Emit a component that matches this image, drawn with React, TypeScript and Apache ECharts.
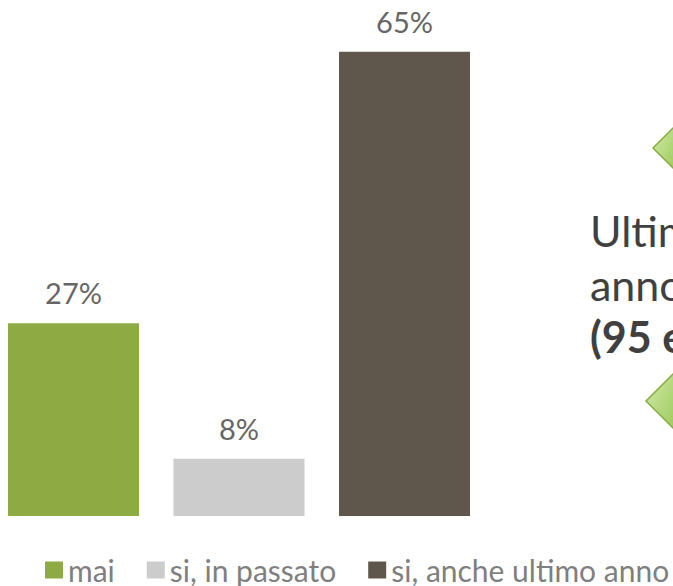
import React, { useEffect, useRef } from "react";
import * as echarts from "echarts";

const categories = ["mai", "si, in passato", "si, anche ultimo anno"];
const values = [27, 8, 65];
const colors = ["#8DAA43", "#CCCCCC", "#5F574C"];
const calloutLines = ["Ultimo", "anno", "(95 e più)"];

const FONT = "Lato, 'Noto Sans', sans-serif";
// the chart div is shifted 10px to the left so that the first bar can start near the page edge
const SHIFT = 10;

export default function App() {
  const ref = useRef<HTMLDivElement>(null);
  useEffect(() => {
    if (!ref.current) return;
    const chart = echarts.init(ref.current, undefined, { renderer: "svg" });
    const series = categories.map((name, i) => ({
      name,
      type: "bar",
      stack: "all",
      barWidth: 131,
      itemStyle: { color: colors[i] },
      data: values.map((v, j) => (j === i ? v : "-")),
      label: {
        show: true,
        position: "top",
        distance: 16,
        formatter: "{c}%",
        color: "#666666",
        fontSize: 29,
        fontFamily: FONT,
      },
    }));
    const greenFill = new echarts.graphic.LinearGradient(0, 0, 1, 1, [
      { offset: 0, color: "#D2EBAA" },
      { offset: 1, color: "#9CC95A" },
    ]);
    const tx = (x: number) => x + SHIFT;
    chart.setOption({
      animation: false,
      grid: { left: 0.75, right: 185.75, top: 16, bottom: 70, containLabel: false },
      xAxis: {
        type: "category",
        data: categories,
        show: false,
      },
      yAxis: { type: "value", min: 0, max: 70, show: false },
      legend: {
        data: categories,
        left: tx(40),
        top: 550,
        width: 800,
        itemWidth: 18,
        itemHeight: 17,
        itemGap: 32,
        icon: "rect",
        textStyle: { color: "#7F7F7F", fontSize: 30, fontFamily: FONT, lineHeight: 30 },
      },
      series,
      graphic: [
        {
          type: "polygon",
          shape: { points: [[tx(676), 125], [tx(653), 148], [tx(676), 171]] },
          style: { fill: greenFill, stroke: "#86AD40", lineWidth: 1.5 },
        },
        {
          type: "polygon",
          shape: { points: [[tx(676), 371], [tx(646), 401], [tx(676), 431]] },
          style: { fill: greenFill, stroke: "#86AD40", lineWidth: 1.5 },
        },
        {
          type: "text",
          x: tx(590),
          y: 230,
          style: { text: calloutLines[0], fill: "#404040", fontSize: 43, fontFamily: FONT, verticalAlign: "middle" },
        },
        {
          type: "text",
          x: tx(590),
          y: 284,
          style: { text: calloutLines[1], fill: "#404040", fontSize: 43, fontFamily: FONT, verticalAlign: "middle" },
        },
        {
          type: "text",
          x: tx(590),
          y: 336,
          style: { text: calloutLines[2], fill: "#404040", fontSize: 43, fontWeight: "bold", fontFamily: FONT, verticalAlign: "middle" },
        },
      ],
    });
    return () => chart.dispose();
  }, []);
  return (
    <div
      ref={ref}
      style={{ position: "fixed", left: -SHIFT, top: 0, width: 673 + SHIFT, height: 586, background: "#fff" }}
    />
  );
}
